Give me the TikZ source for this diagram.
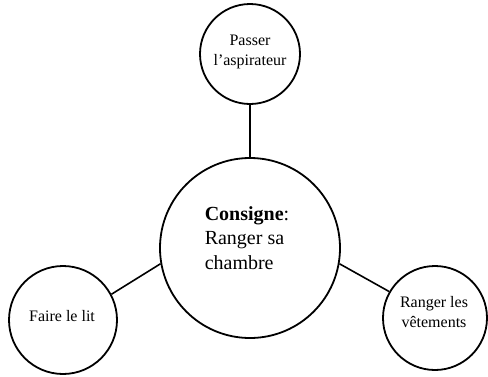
\documentclass[tikz,border=0pt]{standalone}
\usepackage{fontspec}
\setmainfont{Liberation Serif}
\begin{document}
\begin{tikzpicture}[x=1pt,y=-1pt,
  bubble/.style={draw=black,line width=1.8pt,circle,inner sep=0pt},
  link/.style={draw=black,line width=1.6pt},
  lbl/.style={align=center,inner sep=0pt,font=\fontsize{16}{20}\selectfont}]
\useasboundingbox (0,0) rectangle (488,376);
\node[bubble,minimum size=100pt] (top) at (250,54) {};
\node[bubble,minimum size=180pt] (main) at (250,248) {};
\node[bubble,minimum size=108pt] (left) at (63,320) {};
\node[bubble,minimum size=104pt] (right) at (435,318) {};
\node[lbl] (toptext) at (250,52) {Passer\\l’aspirateur};
\node[align=left,inner sep=0pt,font=\fontsize{20}{24.5}\selectfont] (maintext) at (247,238) {\textbf{Consigne}:\\Ranger sa\\chambre};
\node[lbl] (lefttext) at (62,316) {Faire le lit};
\node[lbl] (righttext) at (434,312) {Ranger les\\vêtements};
\draw[link] (top) -- (main);
\draw[link] (main.190) -- (left.28);
\draw[link] (main.-10) -- (right.150);
\end{tikzpicture}
\end{document}
